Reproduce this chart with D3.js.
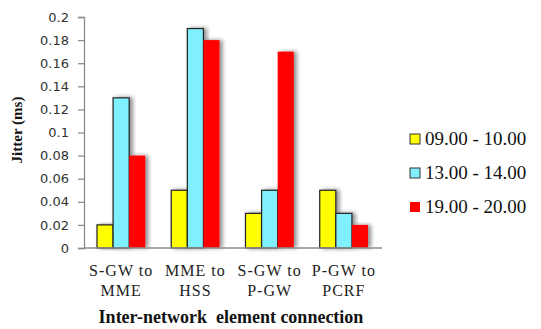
<!DOCTYPE html>
<html>
<head>
<meta charset="utf-8">
<script src="https://cdn.jsdelivr.net/npm/d3@7"></script>
<style>
  html, body { margin: 0; padding: 0; background: #fff; }
  svg { display: block; }
</style>
</head>
<body>
<svg id="chart" width="541" height="329"></svg>
<script>
// Jitter per inter-network element connection, for three time windows
const categories = [["S-GW to", "MME"], ["MME to", "HSS"], ["S-GW to", "P-GW"], ["P-GW to", "PCRF"]];
const seriesNames = ["09.00 - 10.00", "13.00 - 14.00", "19.00 - 20.00"];
const morning = [0.02, 0.05, 0.03, 0.05];
const afternoon = [0.13, 0.19, 0.05, 0.03];
const evening = [0.08, 0.18, 0.17, 0.02];
const yTicks = [0, 0.02, 0.04, 0.06, 0.08, 0.1, 0.12, 0.14, 0.16, 0.18, 0.2];

const seriesValues = [morning, afternoon, evening];
const colors = ["#ffff00", "#80f0ff", "#ff0000"];
const strokes = ["#222", "#222", "none"];
const SERIF = "Liberation Serif";
const SANS = "DejaVu Sans";

const svg = d3.select("#chart");
const plotLeft = 84, plotRight = 381, plotTop = 17, plotBottom = 248;

const defs = svg.append("defs");
const f = defs.append("filter").attr("id", "shadow")
  .attr("x", "-20%").attr("y", "-10%").attr("width", "160%").attr("height", "120%");
f.append("feDropShadow").attr("dx", 3).attr("dy", 0).attr("stdDeviation", 2)
  .attr("flood-color", "#000").attr("flood-opacity", 0.45);

const x0 = d3.scaleBand().domain(d3.range(categories.length)).range([plotLeft, plotRight]).paddingInner(0.35).paddingOuter(0.175);
const x1 = d3.scaleBand().domain(d3.range(seriesNames.length)).range([0, x0.bandwidth()]);
const y = d3.scaleLinear().domain([0, 0.2]).range([plotBottom, plotTop]);

// bars
const groups = svg.append("g").selectAll("g").data(categories).join("g")
  .attr("transform", (d, i) => `translate(${x0(i)},0)`);
groups.selectAll("rect")
  .data((d, i) => seriesValues.map((s, k) => ({ k, v: s[i] })))
  .join("rect")
  .attr("x", d => x1(d.k))
  .attr("y", d => y(d.v))
  .attr("width", x1.bandwidth())
  .attr("height", d => plotBottom - y(d.v))
  .attr("fill", d => colors[d.k])
  .attr("stroke", d => strokes[d.k])
  .attr("stroke-width", 1.2)
  .attr("filter", "url(#shadow)");

// y axis
const yAxis = svg.append("g").attr("transform", `translate(${plotLeft},0)`)
  .call(d3.axisLeft(y).tickValues(yTicks).tickSize(6).tickPadding(9)
    .tickFormat(d => String(+d.toFixed(2))));
yAxis.attr("font-family", SANS).attr("font-size", 13);
yAxis.select(".domain").attr("stroke", "#8c8c8c").attr("stroke-width", 1.3);
yAxis.selectAll(".tick line").attr("stroke", "#8c8c8c").attr("stroke-width", 1.3);
yAxis.selectAll("text").attr("fill", "#333");

// x axis baseline
svg.append("line").attr("x1", plotLeft).attr("x2", plotRight + 1)
  .attr("y1", plotBottom).attr("y2", plotBottom)
  .attr("stroke", "#8c8c8c").attr("stroke-width", 1.3);

// category labels
const catLabels = svg.append("g").selectAll("text").data(categories).join("text")
  .attr("font-family", SERIF)
  .attr("x", (d, i) => x0(i) + x0.bandwidth() / 2)
  .attr("y", 276)
  .attr("text-anchor", "middle")
  .attr("font-size", 16).attr("letter-spacing", 1).attr("fill", "#222");
catLabels.each(function(d) {
  const t = d3.select(this);
  t.append("tspan").attr("x", t.attr("x")).attr("dy", 0).text(d[0]);
  t.append("tspan").attr("x", t.attr("x")).attr("dy", 20).text(d[1]);
});

// axis titles
svg.append("text")
  .attr("font-family", SERIF)
  .attr("transform", `translate(22,130) rotate(-90)`)
  .attr("text-anchor", "middle")
  .attr("font-weight", "bold").attr("font-size", 15).attr("fill", "#111")
  .text("Jitter (ms)");

svg.append("text")
  .attr("font-family", SERIF)
  .attr("x", 231).attr("y", 323)
  .attr("text-anchor", "middle")
  .attr("font-weight", "bold").attr("font-size", 18).attr("fill", "#111")
  .attr("xml:space", "preserve")
  .text("Inter-network  element connection");

// legend
const legend = svg.append("g").selectAll("g").data(seriesNames).join("g")
  .attr("transform", (d, i) => `translate(410,${139 + i * 34})`);
legend.append("rect")
  .attr("x", 0).attr("y", -5).attr("width", 10).attr("height", 10)
  .attr("fill", (d, i) => colors[i])
  .attr("stroke", (d, i) => i < 2 ? "#333" : "none").attr("stroke-width", 1);
legend.append("text")
  .attr("font-family", SERIF)
  .attr("x", 15).attr("y", 6)
  .attr("font-size", 19).attr("fill", "#111")
  .text(d => d);
</script>
</body>
</html>
